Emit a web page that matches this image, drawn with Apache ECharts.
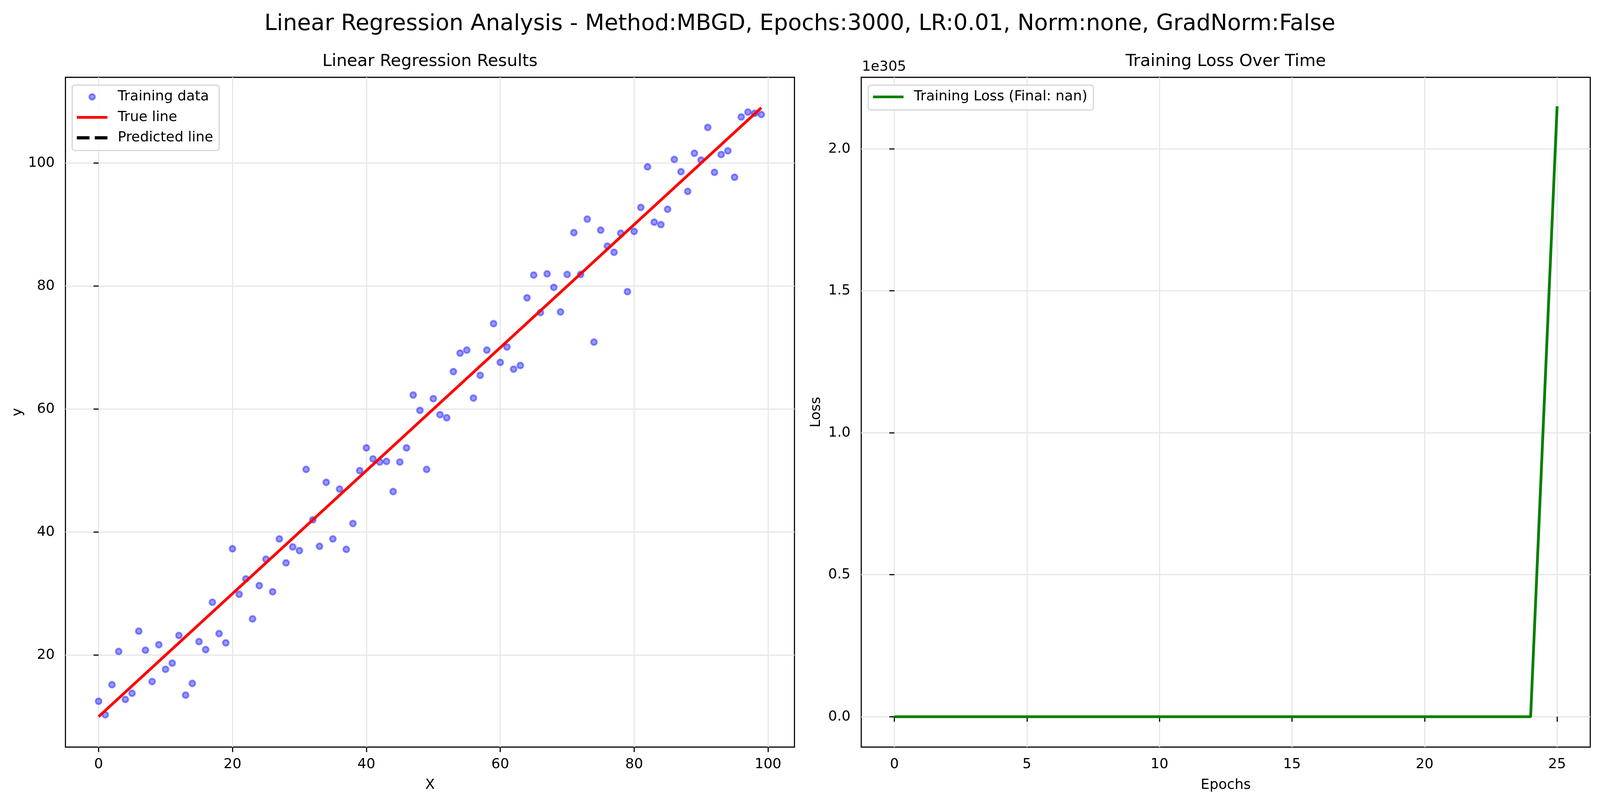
<!DOCTYPE html>
<html>
<head>
<meta charset="utf-8">
<title>Linear Regression Analysis</title>
<script src="https://cdn.jsdelivr.net/npm/echarts@6/dist/echarts.min.js"></script>
<style>
  html, body { margin: 0; padding: 0; background: #fff; overflow: hidden; }
  #chart { width: 100vw; height: 100vh; }
</style>
</head>
<body>
<div id="chart"></div>
<script>
const FONT = 'DejaVu Sans';

// left panel - training samples
const trainX = [
  0, 1, 2, 3, 4, 5, 6, 7, 8, 9, 10, 11, 12, 13, 14, 15, 16, 17, 18, 19,
  20, 21, 22, 23, 24, 25, 26, 27, 28, 29, 30, 31, 32, 33, 34, 35, 36, 37, 38, 39,
  40, 41, 42, 43, 44, 45, 46, 47, 48, 49, 50, 51, 52, 53, 54, 55, 56, 57, 58, 59,
  60, 61, 62, 63, 64, 65, 66, 67, 68, 69, 70, 71, 72, 73, 74, 75, 76, 77, 78, 79,
  80, 81, 82, 83, 84, 85, 86, 87, 88, 89, 90, 91, 92, 93, 94, 95, 96, 97, 98, 99
];
const trainY = [
  12.5, 10.3, 15.2, 20.6, 12.8, 13.8, 23.9, 20.8, 15.7, 21.7,
  17.7, 18.7, 23.2, 13.5, 15.4, 22.2, 20.9, 28.6, 23.5, 22.0,
  37.3, 29.9, 32.4, 25.9, 31.3, 35.6, 30.3, 38.9, 35.0, 37.6,
  37.0, 50.2, 42.0, 37.7, 48.1, 38.9, 47.0, 37.2, 41.4, 50.0,
  53.7, 51.9, 51.4, 51.5, 46.6, 51.4, 53.7, 62.3, 59.8, 50.2,
  61.7, 59.1, 58.6, 66.1, 69.1, 69.6, 61.8, 65.5, 69.6, 73.9,
  67.6, 70.1, 66.5, 67.1, 78.1, 81.8, 75.7, 82.0, 79.8, 75.8,
  81.9, 88.7, 81.9, 90.9, 70.9, 89.1, 86.5, 85.5, 88.6, 79.1,
  88.9, 92.8, 99.4, 90.4, 90.0, 92.5, 100.6, 98.6, 95.4, 101.6,
  100.5, 105.8, 98.5, 101.4, 102.0, 97.7, 107.5, 108.3, 108.1, 107.9
];
const trueLineX = [0, 99];
const trueLineY = [10, 109];
const predictedLine = []; // weights went to nan, so nothing gets drawn

// right panel - loss history, in units of 1e305
const lossEpochs = [0, 1, 2, 3, 4, 5, 6, 7, 8, 9, 10, 11, 12, 13, 14, 15, 16, 17, 18, 19, 20, 21, 22, 23, 24, 25];
const lossValues = [0, 0, 0, 0, 0, 0, 0, 0, 0, 0, 0, 0, 0, 0, 0, 0, 0, 0, 0, 0, 0, 0, 0, 0, 0, 2.15];
const lossOffsetText = '1e305';

// ticks
const regXTicks = [0, 20, 40, 60, 80, 100];
const regYTicks = [20, 40, 60, 80, 100];
const lossXTicks = [0, 5, 10, 15, 20, 25];
const lossYTicks = [0, 0.5, 1.0, 1.5, 2.0];

const suptitle = 'Linear Regression Analysis - Method:MBGD, Epochs:3000, LR:0.01, Norm:none, GradNorm:False';

const el = document.getElementById('chart');
const chart = echarts.init(el, null, { renderer: 'canvas' });

// layout was measured on a 4767x2069 figure, scale it to whatever we got
const W = chart.getWidth(), H = chart.getHeight();
const sx = W / 4767, sy = H / 2069, sf = Math.min(sx, sy);
const px = v => v * sx;
const py = v => v * sy;
const fs = v => v * sf;

const TICK_FONT = fs(41.7);
const DOT_COLOR = 'rgba(0,0,255,0.5)';
const dotStyle = { color: DOT_COLOR, borderColor: DOT_COLOR, borderWidth: fs(5.5) };

function valueAxis(gridIndex, min, max, ticks, isX, extra) {
  return Object.assign({
    type: 'value',
    gridIndex: gridIndex,
    min: min,
    max: max,
    splitNumber: 5,
    axisLine: { show: false },
    axisTick: {
      show: true, inside: false, length: fs(15), customValues: ticks,
      lineStyle: { color: '#000', width: fs(3.3) }
    },
    axisLabel: {
      customValues: ticks, color: '#000', fontSize: TICK_FONT, fontFamily: FONT,
      margin: isX ? py(27) : px(32)
    },
    splitLine: { show: true, lineStyle: { color: '#e6e6e6', width: fs(3.3) } },
    nameLocation: 'middle',
    nameTextStyle: { color: '#000', fontSize: TICK_FONT, fontFamily: FONT }
  }, extra);
}

// legend handles drawn like matplotlib: solid bar or two dashes
const solidHandle = 'path://M0,0H91V8H0Z';
const dashedHandle = 'path://M0,0H31V8H0Z M44,0H75V8H44Z';

const legendBox = {
  orient: 'vertical',
  selectedMode: false,
  backgroundColor: 'rgba(255,255,255,0.8)',
  borderColor: '#d6d6d6',
  borderWidth: fs(3.5),
  borderRadius: fs(8),
  itemWidth: fs(91),
  itemHeight: fs(17),
  itemGap: fs(13),
  textStyle: {
    color: '#000', fontSize: TICK_FONT, fontFamily: FONT, lineHeight: fs(48),
    padding: [0, 0, 0, fs(25)]
  }
};

function textEl(text, x, y, size, align) {
  return {
    type: 'text', x: x, y: y,
    style: {
      text: text, fontSize: size, fontFamily: FONT, fill: '#000',
      align: align, verticalAlign: 'middle', textAlign: align, textVerticalAlign: 'middle'
    }
  };
}

chart.setOption({
  backgroundColor: '#fff',
  animation: false,
  textStyle: { fontFamily: FONT },
  grid: [
    { left: px(195), top: py(198), width: px(2172), height: py(1715), show: true, borderColor: '#000', borderWidth: fs(3.3), backgroundColor: 'transparent' },
    { left: px(2566), top: py(198), width: px(2172), height: py(1715), show: true, borderColor: '#000', borderWidth: fs(3.3), backgroundColor: 'transparent' }
  ],
  xAxis: [
    valueAxis(0, -4.95, 103.95, regXTicks, true, { name: 'X', nameGap: py(80) }),
    valueAxis(1, -1.25, 26.25, lossXTicks, true, { name: 'Epochs', nameGap: py(80) })
  ],
  yAxis: [
    valueAxis(0, 5.05, 113.95, regYTicks, false, { name: 'y', nameGap: px(121) }),
    valueAxis(1, -0.107, 2.252, lossYTicks, false, {
      name: 'Loss', nameGap: px(113),
      axisLabel: {
        customValues: lossYTicks, color: '#000', fontSize: TICK_FONT, fontFamily: FONT, margin: px(32),
        formatter: v => v.toFixed(1)
      }
    })
  ],
  legend: [
    Object.assign({}, legendBox, {
      left: px(215), top: py(218),
      padding: [fs(11), fs(18), fs(14), fs(14)],
      data: [
        { name: 'Training data', icon: 'circle', itemStyle: dotStyle },
        { name: 'True line', icon: solidHandle },
        { name: 'Predicted line', icon: dashedHandle }
      ]
    }),
    Object.assign({}, legendBox, {
      left: px(2587), top: py(218),
      padding: [fs(11), fs(18), fs(15), fs(14)],
      data: [{ name: 'Training Loss (Final: nan)', icon: solidHandle }]
    })
  ],
  graphic: [
    textEl(suptitle, px(2383), py(62), fs(66.7), 'center'),
    textEl('Linear Regression Results', px(1281), py(158), fs(50), 'center'),
    textEl('Training Loss Over Time', px(3652), py(158), fs(50), 'center'),
    textEl(lossOffsetText, px(2568), py(172), TICK_FONT, 'left')
  ],
  series: [
    {
      name: 'Training data',
      type: 'scatter',
      xAxisIndex: 0, yAxisIndex: 0,
      symbol: 'circle',
      symbolSize: fs(17.5),
      itemStyle: dotStyle,
      data: trainX.map((x, i) => [x, trainY[i]]),
      z: 2
    },
    {
      name: 'True line',
      type: 'line',
      xAxisIndex: 0, yAxisIndex: 0,
      symbol: 'none',
      color: '#ff0000',
      lineStyle: { color: '#ff0000', width: fs(8.3) },
      data: trueLineX.map((x, i) => [x, trueLineY[i]]),
      z: 3
    },
    {
      name: 'Predicted line',
      type: 'line',
      xAxisIndex: 0, yAxisIndex: 0,
      symbol: 'none',
      color: '#000',
      lineStyle: { color: '#000', width: fs(8.3), type: [fs(31), fs(13)] },
      data: predictedLine,
      z: 4
    },
    {
      name: 'Training Loss (Final: nan)',
      type: 'line',
      xAxisIndex: 1, yAxisIndex: 1,
      symbol: 'none',
      color: '#008000',
      lineStyle: { color: '#008000', width: fs(8.3) },
      data: lossEpochs.map((e, i) => [e, lossValues[i]]),
      z: 3
    }
  ]
});
</script>
</body>
</html>
